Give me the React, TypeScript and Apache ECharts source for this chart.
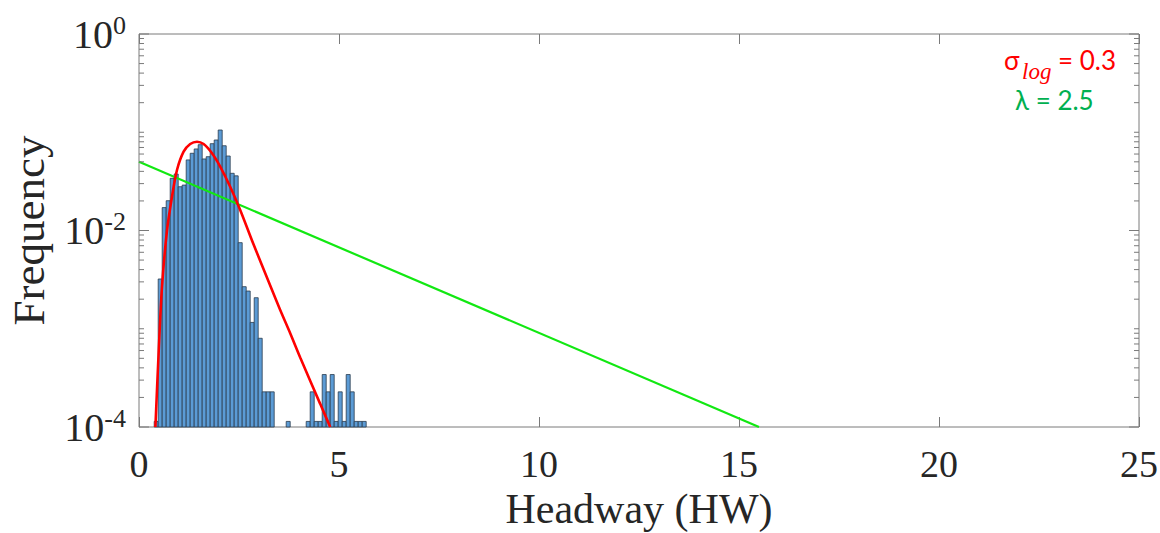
import React, { useEffect, useRef } from "react";
import * as echarts from "echarts";

// ---- Data ----
const BIN_WIDTH = 0.1;
// left edges of histogram bins (Headway, HW)
const histBinLeft = [
  0.38, 0.48, 0.58, 0.68, 0.78, 0.88, 0.98, 1.08, 1.18, 1.28,
  1.38, 1.48, 1.58, 1.68, 1.78, 1.88, 1.98, 2.08, 2.18, 2.28,
  2.38, 2.48, 2.58, 2.68, 2.78, 2.88, 2.98, 3.08, 3.18, 3.28,
  3.68,
  4.18, 4.28, 4.38, 4.48, 4.58, 4.68, 4.78, 4.88, 4.98, 5.08,
  5.18, 5.28, 5.38, 5.48, 5.58,
];
// histogram frequencies
const histFreq = [
  0.000114, 0.00321, 0.0171, 0.0201, 0.0340, 0.0376, 0.0279, 0.0290, 0.0523, 0.0611,
  0.0676, 0.0747, 0.0535, 0.0564, 0.0765, 0.0834, 0.1054, 0.0729, 0.0573, 0.0382,
  0.0360, 0.00752, 0.00268, 0.00242, 0.00116, 0.00207, 0.00080, 0.000228, 0.000228, 0.000228,
  0.000114,
  0.000114, 0.000228, 0.000114, 0.000114, 0.000342, 0.000228, 0.000342, 0.000114, 0.000228, 0.000114,
  0.000342, 0.000228, 0.000114, 0.000114, 0.000114,
];

// lognormal fit (red)
const logNormX = [0.41, 0.49, 0.575, 0.70, 0.825, 0.95, 1.115, 1.28, 1.45, 1.615, 1.825, 2.03, 2.28, 2.53, 2.865, 3.28, 3.53, 3.78, 4.03, 4.53, 4.78];
const logNormY = [0.0001, 0.00056, 0.00268, 0.0100, 0.0221, 0.0413, 0.0634, 0.0758, 0.0801, 0.0758, 0.0611, 0.0447, 0.0279, 0.0162, 0.0072, 0.00275, 0.00155, 0.00090, 0.00051, 0.000172, 0.0001];

// exponential fit (green)
const expX = [0, 15.5];
const expY = [0.05, 0.0001];

const SERIF = "'Liberation Serif', 'Times New Roman', serif";
const SANS = "Lato, 'Open Sans', sans-serif";
const TEXT_COLOR = "#262626";
const AXIS_COLOR = "#7a7a7a";

export default function App() {
  const ref = useRef<HTMLDivElement>(null);

  useEffect(() => {
    if (!ref.current) return;
    const chart = echarts.init(ref.current, undefined, { renderer: "svg" });

    const histData = histBinLeft.map((x, i) => [x, histFreq[i]]);
    const redData = logNormX.map((x, i) => [x, logNormY[i]]);
    const greenData = expX.map((x, i) => [x, expY[i]]);

    // y tick positions (log axis): majors at even decades, minors elsewhere
    const yTickData: number[][] = [];
    for (let e = -4; e <= 0; e++) {
      const base = Math.pow(10, e);
      yTickData.push([0, base, e % 2 === 0 ? 1 : 0]);
      if (e < 0) {
        for (let m = 2; m <= 9; m++) yTickData.push([0, m * base, 0]);
      }
    }

    const option: any = {
      animation: false,
      backgroundColor: "#ffffff",
      grid: {
        left: 139,
        right: 21,
        top: 34,
        bottom: 106,
        containLabel: false,
        outerBoundsMode: "none",
        show: true,
        borderColor: AXIS_COLOR,
        borderWidth: 1,
        backgroundColor: "transparent",
      },
      xAxis: [
        {
          type: "value",
          min: 0,
          max: 25,
          interval: 5,
          position: "bottom",
          axisLine: { show: false },
          axisTick: { show: true, inside: true, length: 10, lineStyle: { color: AXIS_COLOR } },
          splitLine: { show: false },
          axisLabel: {
            fontFamily: SERIF,
            fontSize: 38,
            lineHeight: 34,
            color: TEXT_COLOR,
            margin: 20,
          },
          name: "Headway (HW)",
          nameLocation: "middle",
          nameGap: 62,
          nameMoveOverlap: false,
          nameTextStyle: { fontFamily: SERIF, fontSize: 42, color: TEXT_COLOR, lineHeight: 40 },
        },
        {
          type: "value",
          min: 0,
          max: 25,
          interval: 5,
          position: "top",
          axisLine: { show: false },
          axisTick: { show: true, inside: true, length: 10, lineStyle: { color: AXIS_COLOR } },
          splitLine: { show: false },
          axisLabel: { show: false },
        },
      ],
      yAxis: [
        {
          type: "log",
          logBase: 10,
          min: 0.0001,
          max: 1,
          axisLine: { show: false },
          axisTick: { show: false },
          splitLine: { show: false },
          minorTick: { show: false },
          axisLabel: {
            margin: 13,
            formatter: (v: number) => {
              const e = Math.round(Math.log10(v));
              if (e % 2 !== 0) return "";
              return `{b|10}{s|${e}}`;
            },
            rich: {
              b: { fontFamily: SERIF, fontSize: 40, color: TEXT_COLOR, lineHeight: 44 },
              s: { fontFamily: SERIF, fontSize: 26, color: TEXT_COLOR, verticalAlign: "top", lineHeight: 44 },
            },
          },
          name: "Frequency",
          nameLocation: "middle",
          nameGap: 88,
          nameRotate: 90,
          nameTextStyle: { fontFamily: SERIF, fontSize: 45, color: TEXT_COLOR },
        },
      ],
      series: [
        {
          type: "custom",
          name: "hist",
          xAxisIndex: 0,
          yAxisIndex: 0,
          data: histData,
          encode: { x: 0, y: 1 },
          z: 2,
          renderItem: (params: any, api: any) => {
            const x0 = api.value(0);
            const f = api.value(1);
            const p0 = api.coord([x0, 0.0001]);
            const p1 = api.coord([x0 + BIN_WIDTH, f]);
            return {
              type: "rect",
              shape: { x: p0[0], y: p1[1], width: p1[0] - p0[0], height: p0[1] - p1[1] },
              style: { fill: "#5b9bd5", stroke: "#2a3b4d", lineWidth: 0.8 },
            };
          },
        },
        {
          type: "line",
          name: "exp",
          data: greenData,
          symbol: "none",
          z: 3,
          lineStyle: { color: "#12e812", width: 2.2 },
        },
        {
          type: "line",
          name: "lognormal",
          data: redData,
          symbol: "none",
          smooth: 0.3,
          z: 4,
          lineStyle: { color: "#ff0000", width: 2.6 },
        },
        {
          type: "custom",
          name: "yticks",
          data: yTickData,
          encode: { x: 0, y: 1 },
          z: 5,
          silent: true,
          renderItem: (params: any, api: any) => {
            const v = api.value(1);
            const major = api.value(2) === 1;
            const len = major ? 10 : 5;
            const pl = api.coord([0, v]);
            const pr = api.coord([25, v]);
            return {
              type: "group",
              children: [
                { type: "line", shape: { x1: pl[0], y1: pl[1], x2: pl[0] + len, y2: pl[1] }, style: { stroke: AXIS_COLOR, lineWidth: 1 } },
                { type: "line", shape: { x1: pr[0], y1: pr[1], x2: pr[0] - len, y2: pr[1] }, style: { stroke: AXIS_COLOR, lineWidth: 1 } },
              ],
            };
          },
        },
      ],
      graphic: [
        { type: "text", left: 1004, top: 47, style: { text: "σ", font: `26px ${SANS}`, fill: "#ff0000", lineHeight: 26 } },
        { type: "text", left: 1022, top: 60, style: { text: "log", font: `italic 23px ${SERIF}`, fill: "#ff0000", lineHeight: 18 } },
        { type: "text", left: 1058, top: 47, style: { text: "= 0.3", font: `26px ${SANS}`, fill: "#ff0000", lineHeight: 26 } },
        { type: "text", left: 1015, top: 87, style: { text: "λ = 2.5", font: `26px ${SANS}`, fill: "#00b050", lineHeight: 26 } },
      ],
    };

    chart.setOption(option);
    return () => chart.dispose();
  }, []);

  return (
    <div
      ref={ref}
      style={{ position: "fixed", left: 0, top: 0, width: 1160, height: 533, background: "#fff" }}
    />
  );
}
